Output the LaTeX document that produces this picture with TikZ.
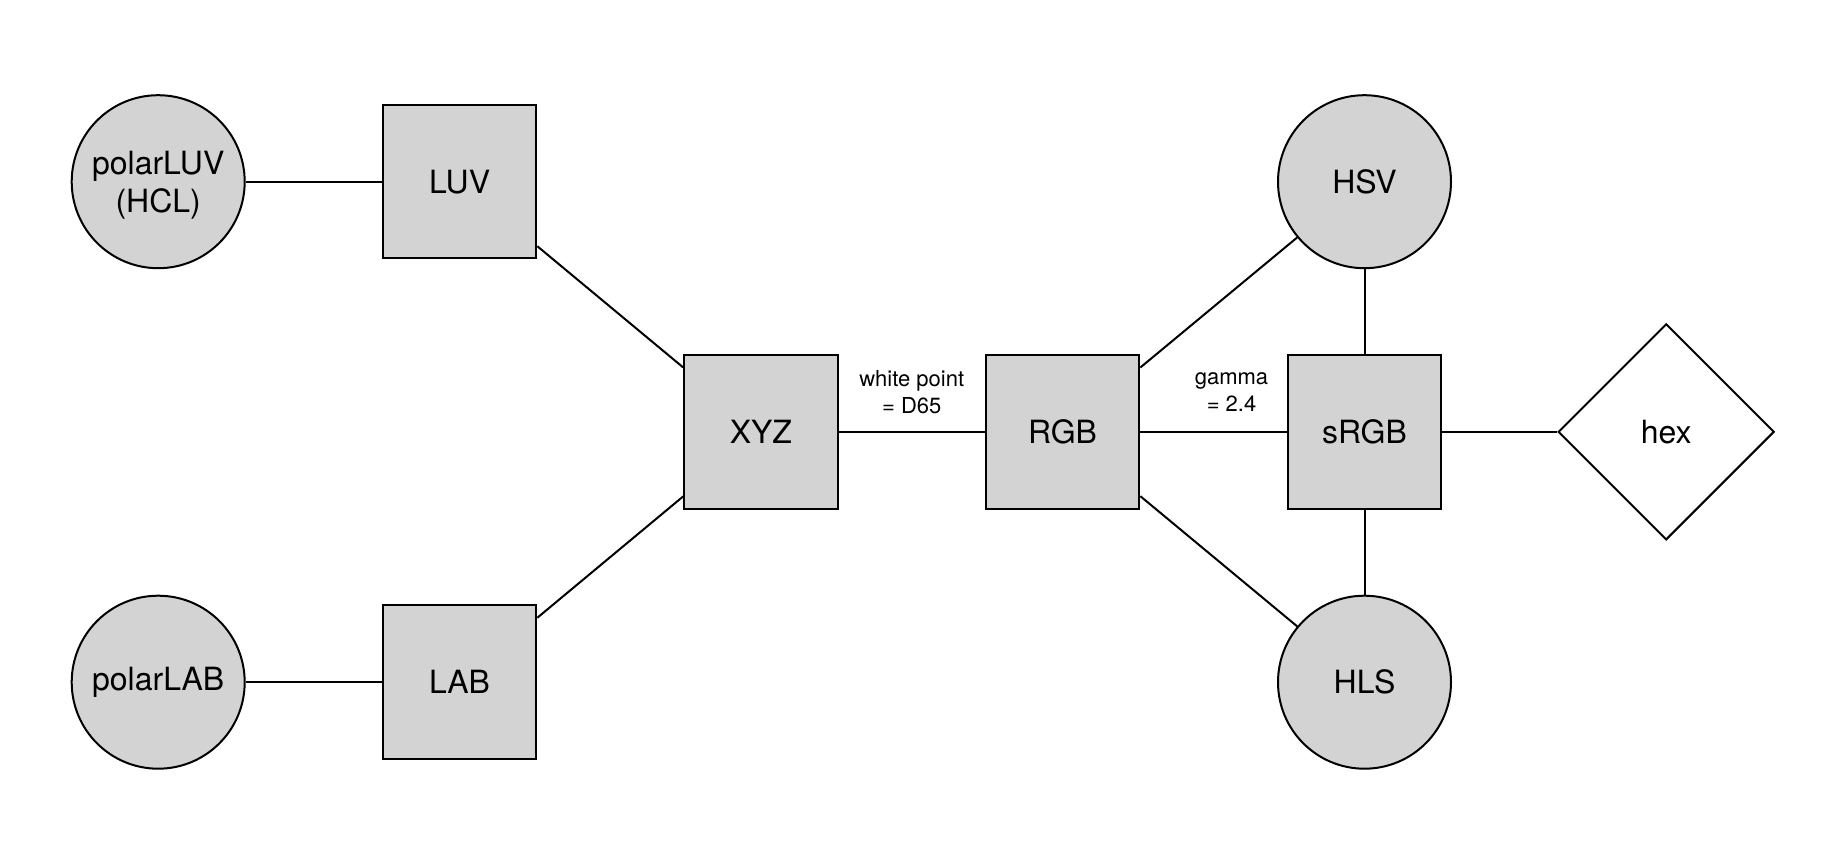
\documentclass[tikz,border=0pt]{standalone}
\usepackage{fontspec}
\setmainfont{TeX Gyre Heros}
\usetikzlibrary{shapes.geometric}
\definecolor{nodefill}{RGB}{211,211,211}
\tikzset{
  base/.style={draw=black, line width=2pt, inner sep=0pt, font=\fontsize{32}{38}\selectfont, align=center},
  boxnode/.style={base, rectangle, fill=nodefill, minimum size=153.5pt},
  circnode/.style={base, circle, fill=nodefill, minimum size=173pt},
  diamnode/.style={base, diamond, fill=white, minimum width=216pt, minimum height=216pt},
  edge/.style={draw=black, line width=2pt},
  lbl/.style={font=\fontsize{22}{27}\selectfont, align=center, inner sep=0pt}
}
\begin{document}
\begin{tikzpicture}[x=1pt,y=-1pt]
\useasboundingbox (0,0) rectangle (1824,864);
\node[circnode] (pLUV) at (158.2,181.7) {\raisebox{-4pt}[\height][\depth]{\begin{tabular}{@{}c@{}}polarLUV\\(HCL)\end{tabular}}};
\node[boxnode]  (LUV)  at (459.6,181.7) {LUV};
\node[boxnode]  (XYZ)  at (760.9,431.8) {XYZ};
\node[boxnode]  (LAB)  at (459.6,682.2) {LAB};
\node[circnode] (pLAB) at (158.2,682.2) {polarLAB};
\node[boxnode]  (RGB)  at (1062.6,431.8) {RGB};
\node[boxnode]  (sRGB) at (1364.5,431.8) {sRGB};
\node[circnode] (HSV)  at (1364.5,181.7) {HSV};
\node[circnode] (HLS)  at (1364.5,682.2) {HLS};
\node[diamnode] (hex)  at (1666.2,431.8) {hex};
\draw[edge] (pLUV) -- (LUV);
\draw[edge] (LUV) -- (XYZ);
\draw[edge] (XYZ) -- (LAB);
\draw[edge] (LAB) -- (pLAB);
\draw[edge] (XYZ) -- node[lbl, midway, yshift=40pt] (wp) {white point\\= D65} (RGB);
\draw[edge] (RGB) -- node[lbl, midway, yshift=40pt, xshift=18pt] (gm) {gamma\\= 2.4} (sRGB);
\draw[edge] (RGB) -- (HSV);
\draw[edge] (RGB) -- (HLS);
\draw[edge] (HSV) -- (sRGB);
\draw[edge] (sRGB) -- (HLS);
\draw[edge] (sRGB) -- (hex);
\end{tikzpicture}
\end{document}
